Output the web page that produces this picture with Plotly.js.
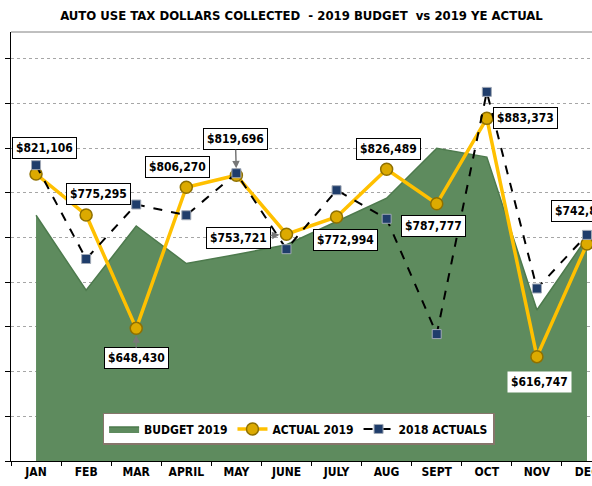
<!DOCTYPE html>
<html>
<head>
<meta charset="utf-8">
<script src="https://cdn.plot.ly/plotly-3.0.1.min.js"></script>
<style>
  html, body { margin: 0; padding: 0; background: #fff; }
  #chart { width: 592px; height: 486px; }
</style>
</head>
<body>
<div id="chart"></div>
<script>
// monthly values
const months = ['JAN', 'FEB', 'MAR', 'APRIL', 'MAY', 'JUNE', 'JULY', 'AUG', 'SEPT', 'OCT', 'NOV', 'DEC'];
const budget2019 = [775000, 691000, 763000, 721000, 731000, 742000, 768000, 794000, 850000, 840000, 669000, 750000];
const actual2019 = [821106, 775295, 648430, 806270, 819696, 753721, 772994, 826489, 787777, 883373, 616747, 742832];
const actual2018 = [831000, 726000, 787000, 775000, 822000, 737000, 803000, 771000, 642000, 913000, 693000, 753000];

const FONT = '"Liberation Sans Narrow", "Arial Narrow", "DejaVu Sans Condensed", sans-serif';

// label placement relative to each ACTUAL 2019 point (px), and whether it is a callout with arrow
const labelOffsets = [
    [8, -26, false], [12, -21, false], [0, 30, true], [-9, -20, false],
    [-1, -36, true], [-48, 4, true], [9, 23, false], [2, -20, false],
    [-3, 22, false], [39, 0, false], [3, 25, false], [-3, -33, false]
];

const traces = [
    {
        x: months,
        y: budget2019,
        name: 'BUDGET 2019',
        type: 'scatter',
        mode: 'lines',
        fill: 'tozeroy',
        fillcolor: '#5e8b5e',
        line: { color: '#4d7a4d', width: 1.5 }
    },
    {
        x: months,
        y: actual2019,
        name: 'ACTUAL 2019',
        type: 'scatter',
        mode: 'lines+markers',
        line: { color: '#ffc000', width: 3.5 },
        marker: { symbol: 'circle', size: 12, color: '#dcaa00', line: { color: '#8f7000', width: 1.5 } }
    },
    {
        x: months,
        y: actual2018,
        name: '2018 ACTUALS',
        type: 'scatter',
        mode: 'lines+markers',
        line: { color: '#000000', width: 2, dash: 'dash' },
        marker: { symbol: 'square', size: 9, color: '#1f3d6b', line: { color: '#a0a8b5', width: 1 } }
    }
];

const annotations = actual2019.map((v, i) => {
    const [dx, dy, arrow] = labelOffsets[i];
    const a = {
        x: months[i],
        y: v,
        xref: 'x',
        yref: 'y',
        text: '$' + v.toLocaleString('en-US'),
        font: { family: FONT, size: 12, color: '#000', weight: 'bold' },
        bgcolor: '#ffffff',
        bordercolor: i === 10 ? 'rgba(0,0,0,0)' : '#000000',
        borderwidth: 1,
        borderpad: 3
    };
    if (arrow) {
        a.showarrow = true;
        a.ax = dx;
        a.ay = dy;
        a.arrowcolor = '#777';
        a.arrowhead = 2;
        a.arrowsize = 1;
        a.arrowwidth = 1.5;
        a.standoff = 7;
    } else {
        a.showarrow = false;
        a.xshift = dx;
        a.yshift = -dy;
    }
    return a;
});

const layout = {
    width: 592,
    height: 486,
    margin: { l: 11, r: 0, t: 32, b: 25 },
    paper_bgcolor: '#ffffff',
    plot_bgcolor: '#ffffff',
    title: {
        text: 'AUTO USE TAX DOLLARS COLLECTED  - 2019 BUDGET  vs 2019 YE ACTUAL',
        font: { family: FONT, size: 13, color: '#000', weight: 'bold' },
        x: 0.5,
        xref: 'paper',
        y: 0.969,
        yref: 'container',
        yanchor: 'middle'
    },
    xaxis: {
        type: 'category',
        range: [-0.5, 11.1],
        tickson: 'boundaries',
        ticks: 'outside',
        ticklen: 4,
        tickcolor: '#000',
        showline: true,
        linecolor: '#000',
        linewidth: 1,
        showgrid: false,
        tickfont: { family: FONT, size: 12, color: '#000', weight: 'bold' }
    },
    yaxis: {
        range: [500000, 980000],
        tick0: 500000,
        dtick: 50000,
        showticklabels: false,
        ticks: 'outside',
        ticklen: 5,
        tickcolor: '#000',
        showline: true,
        linecolor: '#000',
        linewidth: 1,
        gridcolor: '#a6a6a6',
        griddash: 'dot',
        gridwidth: 1,
        zeroline: false
    },
    showlegend: true,
    legend: {
        orientation: 'h',
        x: 0.495,
        xanchor: 'center',
        y: 0.112,
        yanchor: 'top',
        bgcolor: '#ffffff',
        bordercolor: '#86756b',
        borderwidth: 1.5,
        font: { family: FONT, size: 12, color: '#000', weight: 'bold' }
    },
    shapes: [
        { type: 'line', xref: 'paper', yref: 'paper', x0: 0, x1: 1, y0: 1, y1: 1, line: { color: '#808080', width: 1 } }
    ],
    annotations: annotations
};

Plotly.newPlot('chart', traces, layout, { staticPlot: true, displayModeBar: false });
</script>
</body>
</html>
